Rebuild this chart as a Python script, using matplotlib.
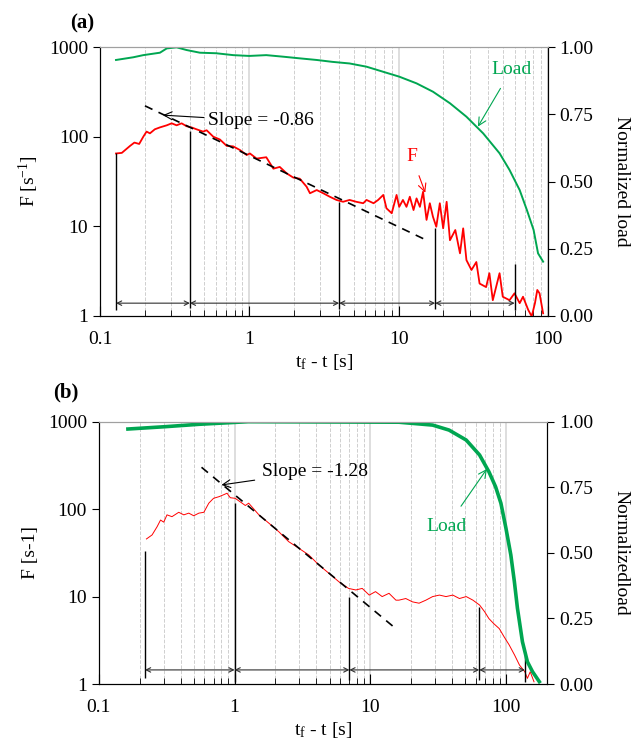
import matplotlib
matplotlib.use("Agg")
import matplotlib.pyplot as plt
from matplotlib.ticker import FixedLocator, FixedFormatter, LogLocator, NullFormatter, NullLocator

plt.rcParams['font.family'] = ['Liberation Serif', 'DejaVu Serif']
plt.rcParams['mathtext.fontset'] = 'custom'
plt.rcParams['mathtext.rm'] = 'Liberation Serif'
plt.rcParams['mathtext.it'] = 'Liberation Serif:italic'

RED = '#ff0000'
GREEN = '#00a651'

# ---- panel (a) data ----
a_t_F = [0.128, 0.140, 0.159, 0.170, 0.183, 0.195, 0.205, 0.216, 0.233, 0.252, 0.280, 0.302,
         0.326, 0.352, 0.380, 0.410, 0.443, 0.490, 0.518, 0.574, 0.636, 0.706, 0.780, 0.866,
         0.960, 1.01, 1.12, 1.30, 1.45, 1.60, 1.78, 1.97, 2.18, 2.42, 2.55, 2.83, 3.13, 3.46,
         3.84, 4.25, 4.70, 5.2, 5.8, 6.1, 6.8, 7.3, 7.9, 8.3, 9.0, 9.7, 10.1, 10.7, 11.3, 11.9,
         12.6, 13.2, 13.9, 14.6, 15.4, 16.2, 17.0, 17.9, 18.9, 19.9, 21.0, 22.1, 24.0, 25.8,
         27.1, 28.5, 30.8, 33.2, 34.9, 38.6, 40.6, 42.8, 47.5, 49.9, 55.4, 59.8, 64.8, 68.2,
         73.9, 78.0, 82.0, 85.0, 88.0, 93.0]
a_F = [65, 66, 79, 86, 83, 100, 114, 109, 121, 127, 134, 141,
       134, 141, 131, 127, 121, 114, 118, 100, 93, 79, 78, 71,
       62.5, 65, 57, 59, 44, 46, 39, 35, 34, 27.7, 23.4, 25.4, 23.4, 21.4,
       19.7, 18.8, 19.7, 18.8, 18.1, 19.7, 18.1, 19.7, 22.4, 15.9, 14.0, 22.4, 16.5, 19.7, 16.5, 21.4,
       15.2, 20.5, 16.5, 24.3, 11.8, 18.1, 12.8, 9.9, 18.1, 9.5, 18.8, 7.0, 9.1, 5.0,
       9.5, 4.2, 3.26, 4.0, 2.3, 2.1, 3.0, 1.5, 3.0, 1.64, 1.5, 1.79, 1.39, 1.64,
       1.17, 0.99, 1.39, 1.95, 1.79, 1.07]
a_t_load = [0.128, 0.167, 0.195, 0.252, 0.280, 0.326, 0.380, 0.467, 0.60, 0.78, 1.0, 1.3, 1.7,
            2.18, 2.83, 3.6, 4.7, 6.1, 7.9, 10.1, 13.2, 17.0, 22.1, 28.5, 36.9, 47.5, 55.4,
            64.8, 72.4, 80.3, 86.0, 93.0]
a_load = [0.952, 0.962, 0.970, 0.979, 0.995, 0.999, 0.989, 0.979, 0.977, 0.970, 0.967, 0.970, 0.964,
          0.958, 0.952, 0.945, 0.939, 0.927, 0.908, 0.890, 0.865, 0.834, 0.791, 0.741, 0.679, 0.605, 0.543,
          0.468, 0.394, 0.320, 0.233, 0.202]
a_fit_t = [0.2, 15.8]
a_fit_F = [221, 6.86]
a_marks = [0.128, 0.4, 4.0, 17.6, 60.0]
a_mark_top = [65, 116, 18.8, 9.6, 3.8]
a_mark_bot = [1.17, 1.23, 1.2, 1.2, 1.17]
a_arrow_F = 1.39

# ---- panel (b) data ----
b_t_F = [0.2245, 0.247, 0.269, 0.285, 0.301, 0.318, 0.346, 0.388, 0.423, 0.46, 0.50, 0.546,
         0.594, 0.646, 0.70, 0.77, 0.83, 0.88, 0.93, 1.01, 1.11, 1.20, 1.27, 1.51, 1.79, 2.12,
         2.50, 2.97, 3.52, 4.17, 4.94, 5.85, 6.9, 7.8, 8.7, 9.8, 10.9, 12.2, 13.7, 15.4, 16.2,
         18.2, 20.4, 22.8, 25.6, 28.7, 32.2, 36.0, 40.4, 45.2, 50.7, 56.8, 63.6, 69.3, 74.5,
         80.9, 88.8, 96.0, 105, 115, 125, 137, 143, 150, 160]
b_F = [45.6, 50.7, 63, 75, 71, 86, 82, 92, 86, 90, 84, 90,
       92, 117, 133, 139, 146, 152, 135, 133, 120, 110, 117, 86, 69, 55,
       42.5, 35.7, 29.9, 23, 18.5, 14.8, 12.4, 11.9, 12.4, 10.4, 11.4, 10.0, 10.9, 9.1, 9.1,
       9.5, 8.7, 8.4, 9.1, 10.0, 10.4, 10.0, 10.4, 9.5, 10.0, 9.1, 8.0, 6.7, 5.6,
       4.9, 4.3, 3.5, 2.8, 2.15, 1.65, 1.38, 1.16, 1.38, 1.06]
b_t_load = [0.164, 0.31, 0.546, 1.26, 16.2, 28.7, 37.9, 50.7, 63.6, 74.5, 83.4, 91.3, 99.4,
            108, 114.7, 120.8, 131.5, 143, 156, 175]
b_load = [0.972, 0.981, 0.990, 1.0, 0.998, 0.987, 0.968, 0.930, 0.873, 0.809, 0.752, 0.689, 0.594,
          0.492, 0.390, 0.289, 0.161, 0.085, 0.047, 0.009]
b_fit_t = [0.571, 15.8]
b_fit_F = [301, 4.15]
b_marks = [0.219, 1.0, 7.0, 63.2, 137.0]
b_mark_top = [33.2, 117, 10.0, 7.66, 2.34]
b_mark_bot = [1.16, 1.06, 1.1, 1.1, 1.06]
b_arrow_F = 1.45

x_ticks = [0.1, 1, 10, 100]
x_ticklabels = ['0.1', '1', '10', '100']
y_ticks = [1, 10, 100, 1000]
y_ticklabels = ['1', '10', '100', '1000']
load_ticks = [0.0, 0.25, 0.5, 0.75, 1.0]
load_ticklabels = ['0.00', '0.25', '0.50', '0.75', '1.00']

FS = 14


def setup_axes(ax, axr, xmax, ylabel, rlabel):
    ax.set_xscale('log')
    ax.set_yscale('log')
    ax.set_xlim(0.1, xmax)
    ax.set_ylim(1, 1000)
    ax.xaxis.set_major_locator(FixedLocator(x_ticks))
    ax.xaxis.set_major_formatter(FixedFormatter(x_ticklabels))
    ax.xaxis.set_minor_locator(LogLocator(base=10, subs=range(2, 10)))
    ax.xaxis.set_minor_formatter(NullFormatter())
    ax.yaxis.set_major_locator(FixedLocator(y_ticks))
    ax.yaxis.set_major_formatter(FixedFormatter(y_ticklabels))
    ax.yaxis.set_minor_locator(NullLocator())
    ax.tick_params(axis='x', which='major', direction='in', length=7, width=0.8, labelsize=FS, pad=11)
    ax.tick_params(axis='x', which='minor', direction='in', length=4, width=0.6)
    ax.tick_params(axis='y', which='major', direction='out', length=5, width=0.8, labelsize=FS)
    ax.grid(True, which='minor', axis='x', ls='--', color='#cfcfcf', lw=0.7)
    ax.grid(True, which='major', axis='x', ls='-', color='#d8d8d8', lw=1.2)
    ax.spines['top'].set_color('#a0a0a0')
    ax.set_xlabel(r't$_\mathrm{f}$ - t [s]', fontsize=FS, labelpad=3)
    ax.set_ylabel(ylabel, fontsize=FS, labelpad=6)
    axr.set_ylim(0, 1)
    axr.set_yticks(load_ticks)
    axr.set_yticklabels(load_ticklabels)
    axr.tick_params(axis='y', direction='out', length=5, width=0.8, labelsize=FS)
    axr.spines['top'].set_color('#a0a0a0')
    axr.set_ylabel(rlabel, fontsize=FS, rotation=270, labelpad=26)


def draw_marks(ax, marks, tops, bots, arrow_F):
    ax.vlines(marks, bots, tops, color='black', lw=1.0, zorder=4)
    for x1, x2 in zip(marks[:-1], marks[1:]):
        ax.annotate('', xy=(x2, arrow_F), xytext=(x1, arrow_F),
                    arrowprops=dict(arrowstyle='<->', color='#303030', lw=0.8,
                                    shrinkA=0, shrinkB=0, mutation_scale=8), zorder=4)


fig = plt.figure(figsize=(6.37, 7.47), dpi=100)

# ---- (a) ----
ax1 = fig.add_axes([0.157, 0.577, 0.703, 0.360])
ax1r = ax1.twinx()
setup_axes(ax1, ax1r, 100, r'F [s$^{\mathrm{-1}}$]', 'Normalized load')
ax1.plot(a_t_F, a_F, color=RED, lw=1.3, zorder=3)
ax1.plot(a_fit_t, a_fit_F, color='black', lw=1.2, ls=(0, (5, 4)), zorder=5)
ax1r.plot(a_t_load, a_load, color=GREEN, lw=1.4)
draw_marks(ax1, a_marks, a_mark_top, a_mark_bot, a_arrow_F)
ax1.annotate('Slope = -0.86', xy=(0.264, 174), xytext=(0.53, 150), fontsize=FS,
             va='center', ha='left',
             arrowprops=dict(arrowstyle='->', color='black', lw=0.8, shrinkA=1, shrinkB=0))
ax1.annotate('F', xy=(15.1, 23.7), xytext=(12.3, 60), fontsize=FS, color=RED,
             va='center', ha='center',
             arrowprops=dict(arrowstyle='->', color=RED, lw=0.8, shrinkA=6, shrinkB=0))
ax1r.annotate('Load', xy=(34.0, 0.704), xytext=(57.0, 0.915), fontsize=FS, color=GREEN,
              va='center', ha='center',
              arrowprops=dict(arrowstyle='->', color=GREEN, lw=0.8, shrinkA=6, shrinkB=0))
fig.text(0.129, 0.969, '(a)', fontsize=15, fontweight='bold', ha='center', va='center')

# ---- (b) ----
ax2 = fig.add_axes([0.155, 0.0843, 0.704, 0.3512])
ax2r = ax2.twinx()
setup_axes(ax2, ax2r, 200, 'F [s-1]', 'Normalizedload')
ax2.plot(b_t_F, b_F, color=RED, lw=0.7, zorder=3)
ax2.plot(b_fit_t, b_fit_F, color='black', lw=1.2, ls=(0, (5, 4)), zorder=5)
ax2r.plot(b_t_load, b_load, color=GREEN, lw=2.6)
draw_marks(ax2, b_marks, b_mark_top, b_mark_bot, b_arrow_F)
ax2.annotate('Slope = -1.28', xy=(0.80, 189), xytext=(1.58, 269), fontsize=FS,
             va='center', ha='left',
             arrowprops=dict(arrowstyle='->', color='black', lw=0.8, shrinkA=3, shrinkB=0))
ax2r.annotate('Load', xy=(72.0, 0.82), xytext=(36.5, 0.60), fontsize=FS, color=GREEN,
              va='center', ha='center',
              arrowprops=dict(arrowstyle='->', color=GREEN, lw=0.8, shrinkA=8, shrinkB=0))
fig.text(0.104, 0.474, '(b)', fontsize=15, fontweight='bold', ha='center', va='center')

fig.savefig('out.png', dpi=100)
